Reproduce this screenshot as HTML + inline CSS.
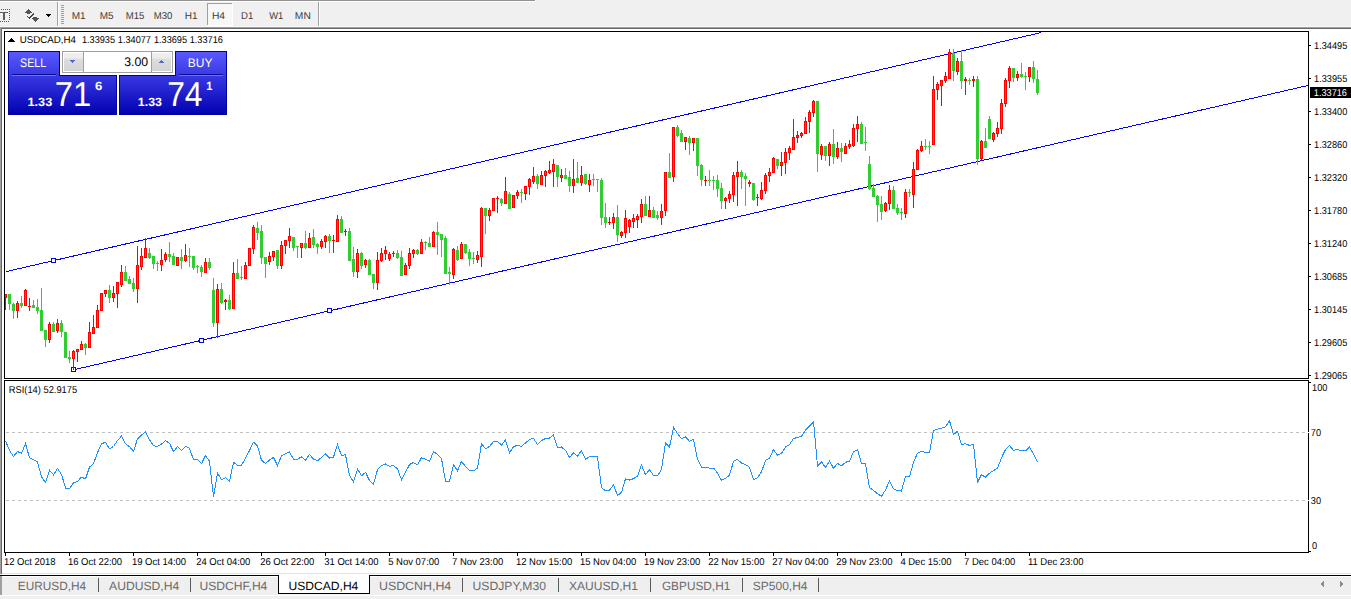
<!DOCTYPE html>
<html><head><meta charset="utf-8"><style>
html,body{margin:0;padding:0}
body{width:1351px;height:599px;position:relative;overflow:hidden;background:#f0f0f0;font-family:"Liberation Sans", sans-serif}
</style></head><body>
<svg width="1351" height="599" viewBox="0 0 1351 599" style="position:absolute;left:0;top:0" font-family='"Liberation Sans", sans-serif' shape-rendering="crispEdges" text-rendering="geometricPrecision"><defs><clipPath id="mainclip"><rect x="5" y="32" width="1303" height="346"/></clipPath></defs><rect x="0" y="0" width="535" height="1" fill="#939393"/>
<rect x="0" y="1" width="536" height="1" fill="#ffffff"/>
<rect x="535" y="0" width="1" height="1" fill="#ffffff"/>
<g fill="#555">
<rect x="1" y="9" width="1" height="1" fill="#555"/>
<rect x="0" y="21" width="1" height="1" fill="#555"/>
<rect x="3" y="9" width="1" height="1" fill="#555"/>
<rect x="2" y="21" width="1" height="1" fill="#555"/>
<rect x="5" y="9" width="1" height="1" fill="#555"/>
<rect x="4" y="21" width="1" height="1" fill="#555"/>
<rect x="7" y="9" width="1" height="1" fill="#555"/>
<rect x="6" y="21" width="1" height="1" fill="#555"/>
<rect x="9" y="9" width="1" height="1" fill="#555"/>
<rect x="8" y="21" width="1" height="1" fill="#555"/>
<rect x="9" y="9" width="1" height="1" fill="#555"/>
<rect x="9" y="11" width="1" height="1" fill="#555"/>
<rect x="9" y="13" width="1" height="1" fill="#555"/>
<rect x="9" y="15" width="1" height="1" fill="#555"/>
<rect x="9" y="17" width="1" height="1" fill="#555"/>
<rect x="9" y="19" width="1" height="1" fill="#555"/>
</g>
<rect x="0" y="12" width="8" height="1" fill="#5a5a5a"/>
<rect x="3" y="13" width="2" height="7" fill="#5a5a5a"/>
<path d="M25 12.5 L28.5 9 L32 12.5 Z" fill="#555"/>
<rect x="27" y="12" width="3" height="2" fill="#555"/>
<path d="M27 16 L29.5 18.5 L34 13" stroke="#444" stroke-width="1.3" fill="none"/>
<path d="M32 18 L39 18 L35.5 21.8 Z" fill="#555"/>
<rect x="33" y="17" width="4" height="1" fill="#555"/>
<path d="M46 14 L51.5 14 L48.75 17 Z" fill="#000"/>
<rect x="57" y="2" width="1" height="25" fill="#a0a0a0"/>
<rect x="58" y="2" width="1" height="25" fill="#ffffff"/>
<rect x="61" y="5" width="3" height="1" fill="#a0a0a0"/>
<rect x="61" y="7" width="3" height="1" fill="#a0a0a0"/>
<rect x="61" y="9" width="3" height="1" fill="#a0a0a0"/>
<rect x="61" y="11" width="3" height="1" fill="#a0a0a0"/>
<rect x="61" y="13" width="3" height="1" fill="#a0a0a0"/>
<rect x="61" y="15" width="3" height="1" fill="#a0a0a0"/>
<rect x="61" y="17" width="3" height="1" fill="#a0a0a0"/>
<rect x="61" y="19" width="3" height="1" fill="#a0a0a0"/>
<rect x="61" y="21" width="3" height="1" fill="#a0a0a0"/>
<rect x="61" y="23" width="3" height="1" fill="#a0a0a0"/>
<rect x="207" y="3" width="25" height="22" fill="#f7f7f7"/>
<rect x="207" y="3" width="25" height="1" fill="#a0a0a0"/>
<rect x="207" y="3" width="1" height="22" fill="#a0a0a0"/>
<rect x="232" y="3" width="1" height="23" fill="#ffffff"/>
<rect x="207" y="25" width="26" height="1" fill="#ffffff"/>
<text x="71.78" y="19" font-size="10" fill="#3a3a3a" textLength="13.90" lengthAdjust="spacingAndGlyphs">M1</text>
<text x="99.78" y="19" font-size="10" fill="#3a3a3a" textLength="13.83" lengthAdjust="spacingAndGlyphs">M5</text>
<text x="125.72" y="19" font-size="10" fill="#3a3a3a" textLength="18.58" lengthAdjust="spacingAndGlyphs">M15</text>
<text x="153.72" y="19" font-size="10" fill="#3a3a3a" textLength="18.55" lengthAdjust="spacingAndGlyphs">M30</text>
<text x="184.78" y="19" font-size="10" fill="#3a3a3a" textLength="12.81" lengthAdjust="spacingAndGlyphs">H1</text>
<text x="211.96" y="19" font-size="10" fill="#3a3a3a" textLength="13.14" lengthAdjust="spacingAndGlyphs">H4</text>
<text x="241.01" y="19" font-size="10" fill="#3a3a3a" textLength="12.25" lengthAdjust="spacingAndGlyphs">D1</text>
<text x="269.16" y="19" font-size="10" fill="#3a3a3a" textLength="14.09" lengthAdjust="spacingAndGlyphs">W1</text>
<text x="294.86" y="19" font-size="10" fill="#3a3a3a" textLength="15.98" lengthAdjust="spacingAndGlyphs">MN</text>
<rect x="318" y="2" width="1" height="25" fill="#a0a0a0"/>
<rect x="319" y="2" width="1" height="25" fill="#ffffff"/>
<rect x="0" y="26" width="1351" height="1" fill="#f7f7f7"/>
<rect x="0" y="27" width="1351" height="1" fill="#a0a0a0"/>
<rect x="0" y="28" width="1351" height="1" fill="#696969"/>
<rect x="0" y="27" width="1" height="547" fill="#a0a0a0"/>
<rect x="1" y="28" width="1" height="546" fill="#696969"/>
<rect x="2" y="29" width="1349" height="544" fill="#ffffff"/>
<rect x="2" y="573" width="1349" height="1" fill="#e3e3e3"/>
<rect x="2" y="574" width="1349" height="1" fill="#ffffff"/>
<rect x="4" y="31" width="1305" height="1" fill="#000"/>
<rect x="4" y="31" width="1" height="348" fill="#000"/>
<rect x="4" y="378" width="1305" height="1" fill="#000"/>
<rect x="1308" y="31" width="1" height="348" fill="#000"/>
<rect x="4" y="380" width="1305" height="1" fill="#000"/>
<rect x="4" y="380" width="1" height="173" fill="#000"/>
<rect x="4" y="552" width="1305" height="1" fill="#000"/>
<rect x="1308" y="380" width="1" height="173" fill="#000"/>
<g clip-path="url(#mainclip)">
<line x1="6" y1="271.60" x2="1041.5" y2="32.50" stroke="#0000ff" stroke-width="1"/>
<line x1="73" y1="369.91" x2="1308" y2="85.49" stroke="#0000ff" stroke-width="1"/>
<rect x="51.5" y="258.5" width="4" height="4" fill="#fff" stroke="#0000ff" stroke-width="1"/>
<rect x="71.5" y="367.5" width="4" height="4" fill="#fff" stroke="#0000ff" stroke-width="1"/>
<rect x="199.5" y="338.5" width="4" height="4" fill="#fff" stroke="#0000ff" stroke-width="1"/>
<rect x="327.5" y="308.5" width="4" height="4" fill="#fff" stroke="#0000ff" stroke-width="1"/>
<rect x="5" y="294" width="1" height="16" fill="#ff0000"/><rect x="4" y="294" width="3" height="4" fill="#ff0000"/><rect x="5" y="295" width="1" height="2" fill="#ff4500"/><rect x="9" y="294" width="1" height="16" fill="#32cd32"/><rect x="8" y="294" width="3" height="10" fill="#32cd32"/><rect x="13" y="303" width="1" height="16" fill="#32cd32"/><rect x="12" y="304" width="3" height="7" fill="#32cd32"/><rect x="17" y="301" width="1" height="17" fill="#ff0000"/><rect x="16" y="303" width="3" height="8" fill="#ff0000"/><rect x="17" y="304" width="1" height="6" fill="#ff4500"/><rect x="21" y="296" width="1" height="12" fill="#32cd32"/><rect x="20" y="303" width="3" height="3" fill="#32cd32"/><rect x="25" y="289" width="1" height="17" fill="#ff0000"/><rect x="24" y="290" width="3" height="16" fill="#ff0000"/><rect x="25" y="291" width="1" height="14" fill="#ff4500"/><rect x="29" y="298" width="1" height="13" fill="#ff0000"/><rect x="28" y="306" width="3" height="1" fill="#ff0000"/><rect x="33" y="300" width="1" height="8" fill="#32cd32"/><rect x="32" y="305" width="3" height="3" fill="#32cd32"/><rect x="37" y="299" width="1" height="15" fill="#32cd32"/><rect x="36" y="307" width="3" height="4" fill="#32cd32"/><rect x="41" y="288" width="1" height="43" fill="#32cd32"/><rect x="40" y="310" width="3" height="21" fill="#32cd32"/><rect x="45" y="330" width="1" height="17" fill="#32cd32"/><rect x="44" y="330" width="3" height="10" fill="#32cd32"/><rect x="49" y="322" width="1" height="21" fill="#ff0000"/><rect x="48" y="324" width="3" height="16" fill="#ff0000"/><rect x="49" y="325" width="1" height="14" fill="#ff4500"/><rect x="53" y="322" width="1" height="10" fill="#32cd32"/><rect x="52" y="324" width="3" height="8" fill="#32cd32"/><rect x="57" y="319" width="1" height="14" fill="#ff0000"/><rect x="56" y="323" width="3" height="8" fill="#ff0000"/><rect x="57" y="324" width="1" height="6" fill="#ff4500"/><rect x="61" y="320" width="1" height="17" fill="#32cd32"/><rect x="60" y="323" width="3" height="9" fill="#32cd32"/><rect x="65" y="332" width="1" height="26" fill="#32cd32"/><rect x="64" y="332" width="3" height="26" fill="#32cd32"/><rect x="69" y="351" width="1" height="12" fill="#32cd32"/><rect x="68" y="357" width="3" height="2" fill="#32cd32"/><rect x="73" y="350" width="1" height="20" fill="#ff0000"/><rect x="72" y="351" width="3" height="8" fill="#ff0000"/><rect x="73" y="352" width="1" height="6" fill="#ff4500"/><rect x="77" y="349" width="1" height="13" fill="#ff0000"/><rect x="76" y="349" width="3" height="3" fill="#ff0000"/><rect x="77" y="350" width="1" height="1" fill="#ff4500"/><rect x="81" y="341" width="1" height="9" fill="#ff0000"/><rect x="80" y="344" width="3" height="6" fill="#ff0000"/><rect x="81" y="345" width="1" height="4" fill="#ff4500"/><rect x="85" y="343" width="1" height="12" fill="#32cd32"/><rect x="84" y="344" width="3" height="4" fill="#32cd32"/><rect x="89" y="322" width="1" height="26" fill="#ff0000"/><rect x="88" y="332" width="3" height="16" fill="#ff0000"/><rect x="89" y="333" width="1" height="14" fill="#ff4500"/><rect x="93" y="315" width="1" height="19" fill="#ff0000"/><rect x="92" y="327" width="3" height="7" fill="#ff0000"/><rect x="93" y="328" width="1" height="5" fill="#ff4500"/><rect x="97" y="305" width="1" height="23" fill="#ff0000"/><rect x="96" y="310" width="3" height="18" fill="#ff0000"/><rect x="97" y="311" width="1" height="16" fill="#ff4500"/><rect x="101" y="293" width="1" height="18" fill="#ff0000"/><rect x="100" y="293" width="3" height="18" fill="#ff0000"/><rect x="101" y="294" width="1" height="16" fill="#ff4500"/><rect x="105" y="290" width="1" height="7" fill="#ff0000"/><rect x="104" y="290" width="3" height="4" fill="#ff0000"/><rect x="105" y="291" width="1" height="2" fill="#ff4500"/><rect x="109" y="285" width="1" height="18" fill="#32cd32"/><rect x="108" y="290" width="3" height="8" fill="#32cd32"/><rect x="113" y="286" width="1" height="16" fill="#ff0000"/><rect x="112" y="293" width="3" height="5" fill="#ff0000"/><rect x="113" y="294" width="1" height="3" fill="#ff4500"/><rect x="117" y="282" width="1" height="26" fill="#ff0000"/><rect x="116" y="282" width="3" height="12" fill="#ff0000"/><rect x="117" y="283" width="1" height="10" fill="#ff4500"/><rect x="121" y="265" width="1" height="22" fill="#ff0000"/><rect x="120" y="272" width="3" height="13" fill="#ff0000"/><rect x="121" y="273" width="1" height="11" fill="#ff4500"/><rect x="125" y="266" width="1" height="15" fill="#32cd32"/><rect x="124" y="272" width="3" height="9" fill="#32cd32"/><rect x="129" y="276" width="1" height="8" fill="#32cd32"/><rect x="128" y="279" width="3" height="5" fill="#32cd32"/><rect x="133" y="278" width="1" height="14" fill="#32cd32"/><rect x="132" y="283" width="3" height="6" fill="#32cd32"/><rect x="137" y="246" width="1" height="57" fill="#ff0000"/><rect x="136" y="265" width="3" height="24" fill="#ff0000"/><rect x="137" y="266" width="1" height="22" fill="#ff4500"/><rect x="141" y="248" width="1" height="22" fill="#ff0000"/><rect x="140" y="256" width="3" height="11" fill="#ff0000"/><rect x="141" y="257" width="1" height="9" fill="#ff4500"/><rect x="145" y="238" width="1" height="20" fill="#ff0000"/><rect x="144" y="248" width="3" height="10" fill="#ff0000"/><rect x="145" y="249" width="1" height="8" fill="#ff4500"/><rect x="149" y="248" width="1" height="11" fill="#32cd32"/><rect x="148" y="253" width="3" height="5" fill="#32cd32"/><rect x="153" y="256" width="1" height="13" fill="#32cd32"/><rect x="152" y="256" width="3" height="8" fill="#32cd32"/><rect x="157" y="261" width="1" height="10" fill="#32cd32"/><rect x="156" y="263" width="3" height="1" fill="#32cd32"/><rect x="161" y="249" width="1" height="22" fill="#ff0000"/><rect x="160" y="260" width="3" height="5" fill="#ff0000"/><rect x="161" y="261" width="1" height="3" fill="#ff4500"/><rect x="165" y="252" width="1" height="10" fill="#ff0000"/><rect x="164" y="254" width="3" height="6" fill="#ff0000"/><rect x="165" y="255" width="1" height="4" fill="#ff4500"/><rect x="169" y="242" width="1" height="20" fill="#32cd32"/><rect x="168" y="254" width="3" height="3" fill="#32cd32"/><rect x="173" y="253" width="1" height="12" fill="#32cd32"/><rect x="172" y="256" width="3" height="9" fill="#32cd32"/><rect x="177" y="257" width="1" height="9" fill="#ff0000"/><rect x="176" y="257" width="3" height="9" fill="#ff0000"/><rect x="177" y="258" width="1" height="7" fill="#ff4500"/><rect x="181" y="249" width="1" height="20" fill="#32cd32"/><rect x="180" y="257" width="3" height="4" fill="#32cd32"/><rect x="185" y="244" width="1" height="18" fill="#ff0000"/><rect x="184" y="255" width="3" height="6" fill="#ff0000"/><rect x="185" y="256" width="1" height="4" fill="#ff4500"/><rect x="189" y="248" width="1" height="19" fill="#32cd32"/><rect x="188" y="256" width="3" height="1" fill="#32cd32"/><rect x="193" y="256" width="1" height="14" fill="#32cd32"/><rect x="192" y="256" width="3" height="12" fill="#32cd32"/><rect x="197" y="265" width="1" height="8" fill="#32cd32"/><rect x="196" y="266" width="3" height="1" fill="#32cd32"/><rect x="201" y="265" width="1" height="12" fill="#32cd32"/><rect x="200" y="267" width="3" height="5" fill="#32cd32"/><rect x="205" y="258" width="1" height="15" fill="#ff0000"/><rect x="204" y="262" width="3" height="11" fill="#ff0000"/><rect x="205" y="263" width="1" height="9" fill="#ff4500"/><rect x="209" y="258" width="1" height="12" fill="#32cd32"/><rect x="208" y="262" width="3" height="6" fill="#32cd32"/><rect x="213" y="278" width="1" height="49" fill="#32cd32"/><rect x="212" y="290" width="3" height="33" fill="#32cd32"/><rect x="217" y="284" width="1" height="54" fill="#ff0000"/><rect x="216" y="289" width="3" height="34" fill="#ff0000"/><rect x="217" y="290" width="1" height="32" fill="#ff4500"/><rect x="221" y="283" width="1" height="21" fill="#32cd32"/><rect x="220" y="289" width="3" height="14" fill="#32cd32"/><rect x="225" y="299" width="1" height="11" fill="#ff0000"/><rect x="224" y="300" width="3" height="2" fill="#ff0000"/><rect x="229" y="295" width="1" height="15" fill="#32cd32"/><rect x="228" y="300" width="3" height="9" fill="#32cd32"/><rect x="233" y="262" width="1" height="47" fill="#ff0000"/><rect x="232" y="273" width="3" height="36" fill="#ff0000"/><rect x="233" y="274" width="1" height="34" fill="#ff4500"/><rect x="237" y="259" width="1" height="20" fill="#32cd32"/><rect x="236" y="273" width="3" height="6" fill="#32cd32"/><rect x="241" y="266" width="1" height="14" fill="#32cd32"/><rect x="240" y="277" width="3" height="1" fill="#32cd32"/><rect x="245" y="262" width="1" height="17" fill="#ff0000"/><rect x="244" y="265" width="3" height="14" fill="#ff0000"/><rect x="245" y="266" width="1" height="12" fill="#ff4500"/><rect x="249" y="248" width="1" height="18" fill="#ff0000"/><rect x="248" y="248" width="3" height="18" fill="#ff0000"/><rect x="249" y="249" width="1" height="16" fill="#ff4500"/><rect x="253" y="225" width="1" height="29" fill="#ff0000"/><rect x="252" y="227" width="3" height="22" fill="#ff0000"/><rect x="253" y="228" width="1" height="20" fill="#ff4500"/><rect x="257" y="222" width="1" height="18" fill="#32cd32"/><rect x="256" y="228" width="3" height="5" fill="#32cd32"/><rect x="261" y="225" width="1" height="39" fill="#32cd32"/><rect x="260" y="231" width="3" height="27" fill="#32cd32"/><rect x="265" y="257" width="1" height="21" fill="#32cd32"/><rect x="264" y="257" width="3" height="7" fill="#32cd32"/><rect x="269" y="252" width="1" height="13" fill="#ff0000"/><rect x="268" y="256" width="3" height="6" fill="#ff0000"/><rect x="269" y="257" width="1" height="4" fill="#ff4500"/><rect x="273" y="251" width="1" height="10" fill="#ff0000"/><rect x="272" y="251" width="3" height="6" fill="#ff0000"/><rect x="273" y="252" width="1" height="4" fill="#ff4500"/><rect x="277" y="250" width="1" height="19" fill="#32cd32"/><rect x="276" y="250" width="3" height="16" fill="#32cd32"/><rect x="281" y="241" width="1" height="28" fill="#ff0000"/><rect x="280" y="245" width="3" height="21" fill="#ff0000"/><rect x="281" y="246" width="1" height="19" fill="#ff4500"/><rect x="285" y="240" width="1" height="14" fill="#ff0000"/><rect x="284" y="240" width="3" height="6" fill="#ff0000"/><rect x="285" y="241" width="1" height="4" fill="#ff4500"/><rect x="289" y="228" width="1" height="20" fill="#ff0000"/><rect x="288" y="236" width="3" height="5" fill="#ff0000"/><rect x="289" y="237" width="1" height="3" fill="#ff4500"/><rect x="293" y="237" width="1" height="14" fill="#32cd32"/><rect x="292" y="237" width="3" height="11" fill="#32cd32"/><rect x="297" y="246" width="1" height="12" fill="#32cd32"/><rect x="296" y="246" width="3" height="1" fill="#32cd32"/><rect x="301" y="243" width="1" height="15" fill="#ff0000"/><rect x="300" y="243" width="3" height="5" fill="#ff0000"/><rect x="301" y="244" width="1" height="3" fill="#ff4500"/><rect x="305" y="231" width="1" height="18" fill="#32cd32"/><rect x="304" y="243" width="3" height="5" fill="#32cd32"/><rect x="309" y="233" width="1" height="15" fill="#ff0000"/><rect x="308" y="238" width="3" height="10" fill="#ff0000"/><rect x="309" y="239" width="1" height="8" fill="#ff4500"/><rect x="313" y="229" width="1" height="19" fill="#32cd32"/><rect x="312" y="237" width="3" height="8" fill="#32cd32"/><rect x="317" y="243" width="1" height="11" fill="#32cd32"/><rect x="316" y="244" width="3" height="3" fill="#32cd32"/><rect x="321" y="239" width="1" height="10" fill="#ff0000"/><rect x="320" y="241" width="3" height="6" fill="#ff0000"/><rect x="321" y="242" width="1" height="4" fill="#ff4500"/><rect x="325" y="235" width="1" height="13" fill="#ff0000"/><rect x="324" y="236" width="3" height="6" fill="#ff0000"/><rect x="325" y="237" width="1" height="4" fill="#ff4500"/><rect x="329" y="234" width="1" height="19" fill="#32cd32"/><rect x="328" y="236" width="3" height="5" fill="#32cd32"/><rect x="333" y="235" width="1" height="18" fill="#ff0000"/><rect x="332" y="240" width="3" height="1" fill="#ff0000"/><rect x="337" y="215" width="1" height="27" fill="#ff0000"/><rect x="336" y="219" width="3" height="23" fill="#ff0000"/><rect x="337" y="220" width="1" height="21" fill="#ff4500"/><rect x="341" y="216" width="1" height="17" fill="#32cd32"/><rect x="340" y="219" width="3" height="14" fill="#32cd32"/><rect x="345" y="229" width="1" height="7" fill="#ff0000"/><rect x="344" y="231" width="3" height="1" fill="#ff0000"/><rect x="349" y="228" width="1" height="33" fill="#32cd32"/><rect x="348" y="231" width="3" height="30" fill="#32cd32"/><rect x="353" y="247" width="1" height="30" fill="#32cd32"/><rect x="352" y="259" width="3" height="13" fill="#32cd32"/><rect x="357" y="249" width="1" height="29" fill="#ff0000"/><rect x="356" y="253" width="3" height="19" fill="#ff0000"/><rect x="357" y="254" width="1" height="17" fill="#ff4500"/><rect x="361" y="252" width="1" height="17" fill="#32cd32"/><rect x="360" y="253" width="3" height="13" fill="#32cd32"/><rect x="365" y="259" width="1" height="9" fill="#ff0000"/><rect x="364" y="260" width="3" height="5" fill="#ff0000"/><rect x="365" y="261" width="1" height="3" fill="#ff4500"/><rect x="369" y="259" width="1" height="16" fill="#32cd32"/><rect x="368" y="260" width="3" height="15" fill="#32cd32"/><rect x="373" y="274" width="1" height="15" fill="#32cd32"/><rect x="372" y="274" width="3" height="9" fill="#32cd32"/><rect x="377" y="252" width="1" height="38" fill="#ff0000"/><rect x="376" y="260" width="3" height="23" fill="#ff0000"/><rect x="377" y="261" width="1" height="21" fill="#ff4500"/><rect x="381" y="248" width="1" height="14" fill="#ff0000"/><rect x="380" y="253" width="3" height="8" fill="#ff0000"/><rect x="381" y="254" width="1" height="6" fill="#ff4500"/><rect x="385" y="246" width="1" height="14" fill="#ff0000"/><rect x="384" y="250" width="3" height="4" fill="#ff0000"/><rect x="385" y="251" width="1" height="2" fill="#ff4500"/><rect x="389" y="252" width="1" height="9" fill="#ff0000"/><rect x="388" y="254" width="3" height="5" fill="#ff0000"/><rect x="389" y="255" width="1" height="3" fill="#ff4500"/><rect x="393" y="251" width="1" height="6" fill="#ff0000"/><rect x="392" y="253" width="3" height="1" fill="#ff0000"/><rect x="397" y="250" width="1" height="9" fill="#32cd32"/><rect x="396" y="253" width="3" height="5" fill="#32cd32"/><rect x="401" y="251" width="1" height="25" fill="#32cd32"/><rect x="400" y="257" width="3" height="19" fill="#32cd32"/><rect x="405" y="263" width="1" height="12" fill="#ff0000"/><rect x="404" y="265" width="3" height="10" fill="#ff0000"/><rect x="405" y="266" width="1" height="8" fill="#ff4500"/><rect x="409" y="248" width="1" height="21" fill="#ff0000"/><rect x="408" y="253" width="3" height="13" fill="#ff0000"/><rect x="409" y="254" width="1" height="11" fill="#ff4500"/><rect x="413" y="249" width="1" height="9" fill="#ff0000"/><rect x="412" y="250" width="3" height="4" fill="#ff0000"/><rect x="413" y="251" width="1" height="2" fill="#ff4500"/><rect x="417" y="249" width="1" height="6" fill="#32cd32"/><rect x="416" y="250" width="3" height="4" fill="#32cd32"/><rect x="421" y="239" width="1" height="15" fill="#ff0000"/><rect x="420" y="242" width="3" height="12" fill="#ff0000"/><rect x="421" y="243" width="1" height="10" fill="#ff4500"/><rect x="425" y="241" width="1" height="9" fill="#32cd32"/><rect x="424" y="242" width="3" height="1" fill="#32cd32"/><rect x="429" y="237" width="1" height="10" fill="#32cd32"/><rect x="428" y="243" width="3" height="4" fill="#32cd32"/><rect x="433" y="231" width="1" height="16" fill="#ff0000"/><rect x="432" y="232" width="3" height="15" fill="#ff0000"/><rect x="433" y="233" width="1" height="13" fill="#ff4500"/><rect x="437" y="222" width="1" height="33" fill="#32cd32"/><rect x="436" y="232" width="3" height="3" fill="#32cd32"/><rect x="441" y="234" width="1" height="23" fill="#32cd32"/><rect x="440" y="234" width="3" height="6" fill="#32cd32"/><rect x="445" y="236" width="1" height="38" fill="#32cd32"/><rect x="444" y="238" width="3" height="36" fill="#32cd32"/><rect x="449" y="267" width="1" height="18" fill="#32cd32"/><rect x="448" y="272" width="3" height="2" fill="#32cd32"/><rect x="453" y="248" width="1" height="31" fill="#ff0000"/><rect x="452" y="249" width="3" height="26" fill="#ff0000"/><rect x="453" y="250" width="1" height="24" fill="#ff4500"/><rect x="457" y="246" width="1" height="15" fill="#32cd32"/><rect x="456" y="250" width="3" height="10" fill="#32cd32"/><rect x="461" y="242" width="1" height="17" fill="#ff0000"/><rect x="460" y="244" width="3" height="15" fill="#ff0000"/><rect x="461" y="245" width="1" height="13" fill="#ff4500"/><rect x="465" y="244" width="1" height="10" fill="#32cd32"/><rect x="464" y="244" width="3" height="9" fill="#32cd32"/><rect x="469" y="249" width="1" height="17" fill="#32cd32"/><rect x="468" y="252" width="3" height="7" fill="#32cd32"/><rect x="473" y="252" width="1" height="12" fill="#32cd32"/><rect x="472" y="258" width="3" height="1" fill="#32cd32"/><rect x="477" y="251" width="1" height="12" fill="#ff0000"/><rect x="476" y="255" width="3" height="5" fill="#ff0000"/><rect x="477" y="256" width="1" height="3" fill="#ff4500"/><rect x="481" y="207" width="1" height="60" fill="#ff0000"/><rect x="480" y="208" width="3" height="49" fill="#ff0000"/><rect x="481" y="209" width="1" height="47" fill="#ff4500"/><rect x="485" y="208" width="1" height="26" fill="#32cd32"/><rect x="484" y="208" width="3" height="8" fill="#32cd32"/><rect x="489" y="208" width="1" height="13" fill="#ff0000"/><rect x="488" y="210" width="3" height="6" fill="#ff0000"/><rect x="489" y="211" width="1" height="4" fill="#ff4500"/><rect x="493" y="198" width="1" height="13" fill="#ff0000"/><rect x="492" y="198" width="3" height="13" fill="#ff0000"/><rect x="493" y="199" width="1" height="11" fill="#ff4500"/><rect x="497" y="196" width="1" height="17" fill="#ff0000"/><rect x="496" y="198" width="3" height="1" fill="#ff0000"/><rect x="501" y="198" width="1" height="8" fill="#32cd32"/><rect x="500" y="199" width="3" height="4" fill="#32cd32"/><rect x="505" y="177" width="1" height="27" fill="#ff0000"/><rect x="504" y="191" width="3" height="13" fill="#ff0000"/><rect x="505" y="192" width="1" height="11" fill="#ff4500"/><rect x="509" y="192" width="1" height="17" fill="#32cd32"/><rect x="508" y="194" width="3" height="15" fill="#32cd32"/><rect x="513" y="195" width="1" height="13" fill="#ff0000"/><rect x="512" y="195" width="3" height="13" fill="#ff0000"/><rect x="513" y="196" width="1" height="11" fill="#ff4500"/><rect x="517" y="190" width="1" height="9" fill="#ff0000"/><rect x="516" y="192" width="3" height="4" fill="#ff0000"/><rect x="517" y="193" width="1" height="2" fill="#ff4500"/><rect x="521" y="189" width="1" height="14" fill="#32cd32"/><rect x="520" y="192" width="3" height="1" fill="#32cd32"/><rect x="525" y="186" width="1" height="14" fill="#ff0000"/><rect x="524" y="186" width="3" height="8" fill="#ff0000"/><rect x="525" y="187" width="1" height="6" fill="#ff4500"/><rect x="529" y="178" width="1" height="17" fill="#ff0000"/><rect x="528" y="179" width="3" height="8" fill="#ff0000"/><rect x="529" y="180" width="1" height="6" fill="#ff4500"/><rect x="533" y="167" width="1" height="17" fill="#ff0000"/><rect x="532" y="176" width="3" height="6" fill="#ff0000"/><rect x="533" y="177" width="1" height="4" fill="#ff4500"/><rect x="537" y="174" width="1" height="15" fill="#32cd32"/><rect x="536" y="176" width="3" height="8" fill="#32cd32"/><rect x="541" y="171" width="1" height="14" fill="#ff0000"/><rect x="540" y="175" width="3" height="10" fill="#ff0000"/><rect x="541" y="176" width="1" height="8" fill="#ff4500"/><rect x="545" y="170" width="1" height="17" fill="#ff0000"/><rect x="544" y="171" width="3" height="5" fill="#ff0000"/><rect x="545" y="172" width="1" height="3" fill="#ff4500"/><rect x="549" y="161" width="1" height="13" fill="#ff0000"/><rect x="548" y="170" width="3" height="3" fill="#ff0000"/><rect x="549" y="171" width="1" height="1" fill="#ff4500"/><rect x="553" y="159" width="1" height="28" fill="#ff0000"/><rect x="552" y="164" width="3" height="8" fill="#ff0000"/><rect x="553" y="165" width="1" height="6" fill="#ff4500"/><rect x="557" y="165" width="1" height="22" fill="#32cd32"/><rect x="556" y="165" width="3" height="12" fill="#32cd32"/><rect x="561" y="169" width="1" height="13" fill="#ff0000"/><rect x="560" y="175" width="3" height="3" fill="#ff0000"/><rect x="561" y="176" width="1" height="1" fill="#ff4500"/><rect x="565" y="168" width="1" height="11" fill="#32cd32"/><rect x="564" y="175" width="3" height="4" fill="#32cd32"/><rect x="569" y="171" width="1" height="21" fill="#32cd32"/><rect x="568" y="177" width="3" height="9" fill="#32cd32"/><rect x="573" y="159" width="1" height="34" fill="#ff0000"/><rect x="572" y="179" width="3" height="7" fill="#ff0000"/><rect x="573" y="180" width="1" height="5" fill="#ff4500"/><rect x="577" y="162" width="1" height="21" fill="#32cd32"/><rect x="576" y="178" width="3" height="5" fill="#32cd32"/><rect x="581" y="166" width="1" height="20" fill="#ff0000"/><rect x="580" y="175" width="3" height="8" fill="#ff0000"/><rect x="581" y="176" width="1" height="6" fill="#ff4500"/><rect x="585" y="174" width="1" height="11" fill="#32cd32"/><rect x="584" y="174" width="3" height="10" fill="#32cd32"/><rect x="589" y="174" width="1" height="18" fill="#ff0000"/><rect x="588" y="180" width="3" height="5" fill="#ff0000"/><rect x="589" y="181" width="1" height="3" fill="#ff4500"/><rect x="593" y="174" width="1" height="12" fill="#32cd32"/><rect x="592" y="179" width="3" height="1" fill="#32cd32"/><rect x="597" y="179" width="1" height="13" fill="#32cd32"/><rect x="596" y="179" width="3" height="1" fill="#32cd32"/><rect x="601" y="178" width="1" height="47" fill="#32cd32"/><rect x="600" y="180" width="3" height="38" fill="#32cd32"/><rect x="605" y="203" width="1" height="25" fill="#32cd32"/><rect x="604" y="217" width="3" height="6" fill="#32cd32"/><rect x="609" y="217" width="1" height="8" fill="#ff0000"/><rect x="608" y="222" width="3" height="1" fill="#ff0000"/><rect x="613" y="213" width="1" height="16" fill="#ff0000"/><rect x="612" y="217" width="3" height="6" fill="#ff0000"/><rect x="613" y="218" width="1" height="4" fill="#ff4500"/><rect x="617" y="205" width="1" height="37" fill="#32cd32"/><rect x="616" y="217" width="3" height="18" fill="#32cd32"/><rect x="621" y="231" width="1" height="7" fill="#ff0000"/><rect x="620" y="232" width="3" height="4" fill="#ff0000"/><rect x="621" y="233" width="1" height="2" fill="#ff4500"/><rect x="625" y="210" width="1" height="28" fill="#ff0000"/><rect x="624" y="218" width="3" height="15" fill="#ff0000"/><rect x="625" y="219" width="1" height="13" fill="#ff4500"/><rect x="629" y="219" width="1" height="14" fill="#ff0000"/><rect x="628" y="220" width="3" height="7" fill="#ff0000"/><rect x="629" y="221" width="1" height="5" fill="#ff4500"/><rect x="633" y="214" width="1" height="14" fill="#ff0000"/><rect x="632" y="218" width="3" height="4" fill="#ff0000"/><rect x="633" y="219" width="1" height="2" fill="#ff4500"/><rect x="637" y="214" width="1" height="14" fill="#ff0000"/><rect x="636" y="216" width="3" height="4" fill="#ff0000"/><rect x="637" y="217" width="1" height="2" fill="#ff4500"/><rect x="641" y="199" width="1" height="24" fill="#ff0000"/><rect x="640" y="204" width="3" height="13" fill="#ff0000"/><rect x="641" y="205" width="1" height="11" fill="#ff4500"/><rect x="645" y="196" width="1" height="20" fill="#32cd32"/><rect x="644" y="204" width="3" height="12" fill="#32cd32"/><rect x="649" y="196" width="1" height="21" fill="#ff0000"/><rect x="648" y="210" width="3" height="7" fill="#ff0000"/><rect x="649" y="211" width="1" height="5" fill="#ff4500"/><rect x="653" y="207" width="1" height="11" fill="#32cd32"/><rect x="652" y="210" width="3" height="8" fill="#32cd32"/><rect x="657" y="211" width="1" height="9" fill="#32cd32"/><rect x="656" y="215" width="3" height="3" fill="#32cd32"/><rect x="661" y="204" width="1" height="21" fill="#ff0000"/><rect x="660" y="211" width="3" height="7" fill="#ff0000"/><rect x="661" y="212" width="1" height="5" fill="#ff4500"/><rect x="665" y="172" width="1" height="44" fill="#ff0000"/><rect x="664" y="172" width="3" height="39" fill="#ff0000"/><rect x="665" y="173" width="1" height="37" fill="#ff4500"/><rect x="669" y="153" width="1" height="25" fill="#32cd32"/><rect x="668" y="172" width="3" height="6" fill="#32cd32"/><rect x="673" y="127" width="1" height="55" fill="#ff0000"/><rect x="672" y="127" width="3" height="50" fill="#ff0000"/><rect x="673" y="128" width="1" height="48" fill="#ff4500"/><rect x="677" y="125" width="1" height="12" fill="#32cd32"/><rect x="676" y="127" width="3" height="9" fill="#32cd32"/><rect x="681" y="130" width="1" height="12" fill="#32cd32"/><rect x="680" y="133" width="3" height="9" fill="#32cd32"/><rect x="685" y="137" width="1" height="13" fill="#ff0000"/><rect x="684" y="137" width="3" height="5" fill="#ff0000"/><rect x="685" y="138" width="1" height="3" fill="#ff4500"/><rect x="689" y="136" width="1" height="19" fill="#32cd32"/><rect x="688" y="138" width="3" height="5" fill="#32cd32"/><rect x="693" y="138" width="1" height="13" fill="#ff0000"/><rect x="692" y="138" width="3" height="5" fill="#ff0000"/><rect x="693" y="139" width="1" height="3" fill="#ff4500"/><rect x="697" y="138" width="1" height="38" fill="#32cd32"/><rect x="696" y="138" width="3" height="28" fill="#32cd32"/><rect x="701" y="164" width="1" height="22" fill="#32cd32"/><rect x="700" y="165" width="3" height="15" fill="#32cd32"/><rect x="705" y="176" width="1" height="10" fill="#ff0000"/><rect x="704" y="180" width="3" height="1" fill="#ff0000"/><rect x="709" y="170" width="1" height="16" fill="#32cd32"/><rect x="708" y="180" width="3" height="1" fill="#32cd32"/><rect x="713" y="176" width="1" height="14" fill="#32cd32"/><rect x="712" y="180" width="3" height="1" fill="#32cd32"/><rect x="717" y="175" width="1" height="22" fill="#32cd32"/><rect x="716" y="180" width="3" height="9" fill="#32cd32"/><rect x="721" y="183" width="1" height="26" fill="#32cd32"/><rect x="720" y="188" width="3" height="13" fill="#32cd32"/><rect x="725" y="197" width="1" height="12" fill="#ff0000"/><rect x="724" y="198" width="3" height="3" fill="#ff0000"/><rect x="725" y="199" width="1" height="1" fill="#ff4500"/><rect x="729" y="191" width="1" height="12" fill="#ff0000"/><rect x="728" y="194" width="3" height="5" fill="#ff0000"/><rect x="729" y="195" width="1" height="3" fill="#ff4500"/><rect x="733" y="172" width="1" height="30" fill="#ff0000"/><rect x="732" y="175" width="3" height="20" fill="#ff0000"/><rect x="733" y="176" width="1" height="18" fill="#ff4500"/><rect x="737" y="161" width="1" height="45" fill="#ff0000"/><rect x="736" y="172" width="3" height="5" fill="#ff0000"/><rect x="737" y="173" width="1" height="3" fill="#ff4500"/><rect x="741" y="170" width="1" height="19" fill="#32cd32"/><rect x="740" y="172" width="3" height="5" fill="#32cd32"/><rect x="745" y="173" width="1" height="33" fill="#32cd32"/><rect x="744" y="176" width="3" height="3" fill="#32cd32"/><rect x="749" y="180" width="1" height="7" fill="#ff0000"/><rect x="748" y="182" width="3" height="2" fill="#ff0000"/><rect x="753" y="183" width="1" height="18" fill="#32cd32"/><rect x="752" y="183" width="3" height="17" fill="#32cd32"/><rect x="757" y="194" width="1" height="12" fill="#ff0000"/><rect x="756" y="197" width="3" height="1" fill="#ff0000"/><rect x="761" y="182" width="1" height="18" fill="#ff0000"/><rect x="760" y="190" width="3" height="9" fill="#ff0000"/><rect x="761" y="191" width="1" height="7" fill="#ff4500"/><rect x="765" y="173" width="1" height="21" fill="#ff0000"/><rect x="764" y="175" width="3" height="16" fill="#ff0000"/><rect x="765" y="176" width="1" height="14" fill="#ff4500"/><rect x="769" y="168" width="1" height="14" fill="#ff0000"/><rect x="768" y="172" width="3" height="4" fill="#ff0000"/><rect x="769" y="173" width="1" height="2" fill="#ff4500"/><rect x="773" y="157" width="1" height="16" fill="#ff0000"/><rect x="772" y="158" width="3" height="15" fill="#ff0000"/><rect x="773" y="159" width="1" height="13" fill="#ff4500"/><rect x="777" y="159" width="1" height="10" fill="#32cd32"/><rect x="776" y="159" width="3" height="7" fill="#32cd32"/><rect x="781" y="152" width="1" height="24" fill="#ff0000"/><rect x="780" y="162" width="3" height="4" fill="#ff0000"/><rect x="781" y="163" width="1" height="2" fill="#ff4500"/><rect x="785" y="148" width="1" height="26" fill="#ff0000"/><rect x="784" y="152" width="3" height="11" fill="#ff0000"/><rect x="785" y="153" width="1" height="9" fill="#ff4500"/><rect x="789" y="146" width="1" height="14" fill="#ff0000"/><rect x="788" y="148" width="3" height="5" fill="#ff0000"/><rect x="789" y="149" width="1" height="3" fill="#ff4500"/><rect x="793" y="119" width="1" height="31" fill="#ff0000"/><rect x="792" y="137" width="3" height="13" fill="#ff0000"/><rect x="793" y="138" width="1" height="11" fill="#ff4500"/><rect x="797" y="131" width="1" height="12" fill="#ff0000"/><rect x="796" y="135" width="3" height="3" fill="#ff0000"/><rect x="797" y="136" width="1" height="1" fill="#ff4500"/><rect x="801" y="132" width="1" height="6" fill="#ff0000"/><rect x="800" y="133" width="3" height="3" fill="#ff0000"/><rect x="801" y="134" width="1" height="1" fill="#ff4500"/><rect x="805" y="117" width="1" height="17" fill="#ff0000"/><rect x="804" y="121" width="3" height="13" fill="#ff0000"/><rect x="805" y="122" width="1" height="11" fill="#ff4500"/><rect x="809" y="110" width="1" height="23" fill="#ff0000"/><rect x="808" y="112" width="3" height="10" fill="#ff0000"/><rect x="809" y="113" width="1" height="8" fill="#ff4500"/><rect x="813" y="100" width="1" height="17" fill="#ff0000"/><rect x="812" y="101" width="3" height="12" fill="#ff0000"/><rect x="813" y="102" width="1" height="10" fill="#ff4500"/><rect x="817" y="101" width="1" height="71" fill="#32cd32"/><rect x="816" y="101" width="3" height="53" fill="#32cd32"/><rect x="821" y="144" width="1" height="16" fill="#ff0000"/><rect x="820" y="146" width="3" height="9" fill="#ff0000"/><rect x="821" y="147" width="1" height="7" fill="#ff4500"/><rect x="825" y="146" width="1" height="15" fill="#32cd32"/><rect x="824" y="146" width="3" height="10" fill="#32cd32"/><rect x="829" y="142" width="1" height="24" fill="#ff0000"/><rect x="828" y="144" width="3" height="12" fill="#ff0000"/><rect x="829" y="145" width="1" height="10" fill="#ff4500"/><rect x="833" y="129" width="1" height="35" fill="#32cd32"/><rect x="832" y="144" width="3" height="13" fill="#32cd32"/><rect x="837" y="142" width="1" height="17" fill="#ff0000"/><rect x="836" y="148" width="3" height="9" fill="#ff0000"/><rect x="837" y="149" width="1" height="7" fill="#ff4500"/><rect x="841" y="143" width="1" height="19" fill="#32cd32"/><rect x="840" y="148" width="3" height="4" fill="#32cd32"/><rect x="845" y="143" width="1" height="11" fill="#ff0000"/><rect x="844" y="146" width="3" height="8" fill="#ff0000"/><rect x="845" y="147" width="1" height="6" fill="#ff4500"/><rect x="849" y="140" width="1" height="9" fill="#ff0000"/><rect x="848" y="144" width="3" height="3" fill="#ff0000"/><rect x="849" y="145" width="1" height="1" fill="#ff4500"/><rect x="853" y="124" width="1" height="23" fill="#ff0000"/><rect x="852" y="128" width="3" height="18" fill="#ff0000"/><rect x="853" y="129" width="1" height="16" fill="#ff4500"/><rect x="857" y="116" width="1" height="26" fill="#ff0000"/><rect x="856" y="124" width="3" height="5" fill="#ff0000"/><rect x="857" y="125" width="1" height="3" fill="#ff4500"/><rect x="861" y="122" width="1" height="22" fill="#32cd32"/><rect x="860" y="124" width="3" height="20" fill="#32cd32"/><rect x="865" y="127" width="1" height="24" fill="#32cd32"/><rect x="864" y="142" width="3" height="1" fill="#32cd32"/><rect x="869" y="156" width="1" height="34" fill="#32cd32"/><rect x="868" y="164" width="3" height="25" fill="#32cd32"/><rect x="873" y="184" width="1" height="13" fill="#32cd32"/><rect x="872" y="188" width="3" height="9" fill="#32cd32"/><rect x="877" y="195" width="1" height="27" fill="#32cd32"/><rect x="876" y="196" width="3" height="9" fill="#32cd32"/><rect x="881" y="196" width="1" height="24" fill="#32cd32"/><rect x="880" y="204" width="3" height="8" fill="#32cd32"/><rect x="885" y="202" width="1" height="10" fill="#ff0000"/><rect x="884" y="203" width="3" height="8" fill="#ff0000"/><rect x="885" y="204" width="1" height="6" fill="#ff4500"/><rect x="889" y="185" width="1" height="25" fill="#ff0000"/><rect x="888" y="190" width="3" height="14" fill="#ff0000"/><rect x="889" y="191" width="1" height="12" fill="#ff4500"/><rect x="893" y="186" width="1" height="23" fill="#32cd32"/><rect x="892" y="190" width="3" height="19" fill="#32cd32"/><rect x="897" y="204" width="1" height="11" fill="#32cd32"/><rect x="896" y="208" width="3" height="5" fill="#32cd32"/><rect x="901" y="208" width="1" height="12" fill="#32cd32"/><rect x="900" y="212" width="3" height="1" fill="#32cd32"/><rect x="905" y="189" width="1" height="29" fill="#ff0000"/><rect x="904" y="192" width="3" height="22" fill="#ff0000"/><rect x="905" y="193" width="1" height="20" fill="#ff4500"/><rect x="909" y="189" width="1" height="8" fill="#32cd32"/><rect x="908" y="192" width="3" height="1" fill="#32cd32"/><rect x="913" y="162" width="1" height="46" fill="#ff0000"/><rect x="912" y="169" width="3" height="26" fill="#ff0000"/><rect x="913" y="170" width="1" height="24" fill="#ff4500"/><rect x="917" y="149" width="1" height="21" fill="#ff0000"/><rect x="916" y="150" width="3" height="20" fill="#ff0000"/><rect x="917" y="151" width="1" height="18" fill="#ff4500"/><rect x="921" y="141" width="1" height="11" fill="#ff0000"/><rect x="920" y="146" width="3" height="5" fill="#ff0000"/><rect x="921" y="147" width="1" height="3" fill="#ff4500"/><rect x="925" y="139" width="1" height="11" fill="#32cd32"/><rect x="924" y="146" width="3" height="1" fill="#32cd32"/><rect x="929" y="141" width="1" height="13" fill="#32cd32"/><rect x="928" y="146" width="3" height="1" fill="#32cd32"/><rect x="933" y="76" width="1" height="69" fill="#ff0000"/><rect x="932" y="89" width="3" height="56" fill="#ff0000"/><rect x="933" y="90" width="1" height="54" fill="#ff4500"/><rect x="937" y="82" width="1" height="18" fill="#ff0000"/><rect x="936" y="84" width="3" height="6" fill="#ff0000"/><rect x="937" y="85" width="1" height="4" fill="#ff4500"/><rect x="941" y="80" width="1" height="26" fill="#ff0000"/><rect x="940" y="80" width="3" height="6" fill="#ff0000"/><rect x="941" y="81" width="1" height="4" fill="#ff4500"/><rect x="945" y="72" width="1" height="11" fill="#ff0000"/><rect x="944" y="76" width="3" height="5" fill="#ff0000"/><rect x="945" y="77" width="1" height="3" fill="#ff4500"/><rect x="949" y="49" width="1" height="30" fill="#ff0000"/><rect x="948" y="52" width="3" height="27" fill="#ff0000"/><rect x="949" y="53" width="1" height="25" fill="#ff4500"/><rect x="953" y="49" width="1" height="32" fill="#32cd32"/><rect x="952" y="53" width="3" height="18" fill="#32cd32"/><rect x="957" y="58" width="1" height="17" fill="#ff0000"/><rect x="956" y="61" width="3" height="11" fill="#ff0000"/><rect x="957" y="62" width="1" height="9" fill="#ff4500"/><rect x="961" y="50" width="1" height="39" fill="#32cd32"/><rect x="960" y="61" width="3" height="20" fill="#32cd32"/><rect x="965" y="77" width="1" height="18" fill="#ff0000"/><rect x="964" y="79" width="3" height="2" fill="#ff0000"/><rect x="969" y="78" width="1" height="7" fill="#32cd32"/><rect x="968" y="80" width="3" height="1" fill="#32cd32"/><rect x="973" y="76" width="1" height="11" fill="#ff0000"/><rect x="972" y="79" width="3" height="2" fill="#ff0000"/><rect x="977" y="76" width="1" height="89" fill="#32cd32"/><rect x="976" y="79" width="3" height="80" fill="#32cd32"/><rect x="981" y="140" width="1" height="20" fill="#ff0000"/><rect x="980" y="141" width="3" height="18" fill="#ff0000"/><rect x="981" y="142" width="1" height="16" fill="#ff4500"/><rect x="985" y="128" width="1" height="20" fill="#32cd32"/><rect x="984" y="141" width="3" height="7" fill="#32cd32"/><rect x="989" y="116" width="1" height="23" fill="#32cd32"/><rect x="988" y="119" width="3" height="20" fill="#32cd32"/><rect x="993" y="132" width="1" height="10" fill="#ff0000"/><rect x="992" y="133" width="3" height="7" fill="#ff0000"/><rect x="993" y="134" width="1" height="5" fill="#ff4500"/><rect x="997" y="122" width="1" height="15" fill="#ff0000"/><rect x="996" y="128" width="3" height="6" fill="#ff0000"/><rect x="997" y="129" width="1" height="4" fill="#ff4500"/><rect x="1001" y="99" width="1" height="35" fill="#ff0000"/><rect x="1000" y="103" width="3" height="26" fill="#ff0000"/><rect x="1001" y="104" width="1" height="24" fill="#ff4500"/><rect x="1005" y="78" width="1" height="29" fill="#ff0000"/><rect x="1004" y="80" width="3" height="24" fill="#ff0000"/><rect x="1005" y="81" width="1" height="22" fill="#ff4500"/><rect x="1009" y="66" width="1" height="22" fill="#ff0000"/><rect x="1008" y="68" width="3" height="13" fill="#ff0000"/><rect x="1009" y="69" width="1" height="11" fill="#ff4500"/><rect x="1013" y="68" width="1" height="14" fill="#32cd32"/><rect x="1012" y="68" width="3" height="10" fill="#32cd32"/><rect x="1017" y="71" width="1" height="10" fill="#ff0000"/><rect x="1016" y="74" width="3" height="4" fill="#ff0000"/><rect x="1017" y="75" width="1" height="2" fill="#ff4500"/><rect x="1021" y="63" width="1" height="15" fill="#32cd32"/><rect x="1020" y="74" width="3" height="3" fill="#32cd32"/><rect x="1025" y="72" width="1" height="18" fill="#32cd32"/><rect x="1024" y="76" width="3" height="1" fill="#32cd32"/><rect x="1029" y="67" width="1" height="15" fill="#ff0000"/><rect x="1028" y="67" width="3" height="10" fill="#ff0000"/><rect x="1029" y="68" width="1" height="8" fill="#ff4500"/><rect x="1033" y="61" width="1" height="22" fill="#32cd32"/><rect x="1032" y="67" width="3" height="12" fill="#32cd32"/><rect x="1037" y="70" width="1" height="25" fill="#32cd32"/><rect x="1036" y="79" width="3" height="14" fill="#32cd32"/>
</g>
<rect x="1309" y="45" width="2" height="1" fill="#000"/>
<text x="1314.10" y="49" font-size="10" fill="#000" textLength="33.17" lengthAdjust="spacingAndGlyphs">1.34495</text>
<rect x="1309" y="78" width="2" height="1" fill="#000"/>
<text x="1314.10" y="82" font-size="10" fill="#000" textLength="33.17" lengthAdjust="spacingAndGlyphs">1.33955</text>
<rect x="1309" y="111" width="2" height="1" fill="#000"/>
<text x="1314.10" y="115" font-size="10" fill="#000" textLength="33.17" lengthAdjust="spacingAndGlyphs">1.33400</text>
<rect x="1309" y="144" width="2" height="1" fill="#000"/>
<text x="1314.10" y="148" font-size="10" fill="#000" textLength="33.17" lengthAdjust="spacingAndGlyphs">1.32860</text>
<rect x="1309" y="177" width="2" height="1" fill="#000"/>
<text x="1314.10" y="181" font-size="10" fill="#000" textLength="33.17" lengthAdjust="spacingAndGlyphs">1.32320</text>
<rect x="1309" y="210" width="2" height="1" fill="#000"/>
<text x="1314.10" y="214" font-size="10" fill="#000" textLength="33.17" lengthAdjust="spacingAndGlyphs">1.31780</text>
<rect x="1309" y="243" width="2" height="1" fill="#000"/>
<text x="1314.10" y="247" font-size="10" fill="#000" textLength="33.17" lengthAdjust="spacingAndGlyphs">1.31240</text>
<rect x="1309" y="276" width="2" height="1" fill="#000"/>
<text x="1314.10" y="280" font-size="10" fill="#000" textLength="33.17" lengthAdjust="spacingAndGlyphs">1.30685</text>
<rect x="1309" y="309" width="2" height="1" fill="#000"/>
<text x="1314.10" y="313" font-size="10" fill="#000" textLength="33.17" lengthAdjust="spacingAndGlyphs">1.30145</text>
<rect x="1309" y="342" width="2" height="1" fill="#000"/>
<text x="1314.10" y="346" font-size="10" fill="#000" textLength="33.17" lengthAdjust="spacingAndGlyphs">1.29605</text>
<rect x="1309" y="375" width="2" height="1" fill="#000"/>
<text x="1314.10" y="379" font-size="10" fill="#000" textLength="33.17" lengthAdjust="spacingAndGlyphs">1.29065</text>
<rect x="1310" y="87" width="41" height="11" fill="#000"/>
<text x="1313.80" y="96" font-size="10" fill="#fff" textLength="33.17" lengthAdjust="spacingAndGlyphs">1.33716</text>
<line x1="6" y1="432.5" x2="1308" y2="432.5" stroke="#c0c0c0" stroke-dasharray="3 3"/>
<line x1="6" y1="500.5" x2="1308" y2="500.5" stroke="#c0c0c0" stroke-dasharray="3 3"/>
<rect x="1308" y="432" width="1" height="1" fill="#fff"/>
<rect x="1308" y="500" width="1" height="1" fill="#fff"/>
<rect x="1309" y="551" width="2" height="1" fill="#000"/>
<polyline points="5.5,440.96 9.5,450.46 13.5,456.47 17.5,451.51 21.5,453.39 25.5,443.73 29.5,457.73 33.5,459.53 37.5,462.04 41.5,476.90 45.5,482.38 49.5,470.19 53.5,474.84 57.5,468.51 61.5,474.40 65.5,488.07 69.5,488.92 73.5,482.90 77.5,481.37 81.5,477.13 85.5,478.94 89.5,467.09 93.5,463.51 97.5,452.71 101.5,443.65 105.5,442.36 109.5,448.74 113.5,446.50 117.5,440.43 121.5,436.10 125.5,443.80 129.5,446.71 133.5,451.34 137.5,438.79 141.5,435.05 145.5,431.77 149.5,439.81 153.5,445.76 157.5,446.48 161.5,444.16 165.5,440.66 169.5,443.28 173.5,451.60 177.5,446.72 181.5,450.31 185.5,446.40 189.5,448.38 193.5,459.68 197.5,459.51 201.5,463.70 205.5,455.48 209.5,461.33 213.5,496.70 217.5,473.09 221.5,479.65 225.5,477.79 229.5,481.71 233.5,462.25 237.5,465.18 241.5,465.18 245.5,458.23 249.5,450.51 253.5,442.21 257.5,445.84 261.5,460.28 265.5,463.56 269.5,460.02 273.5,457.36 277.5,465.64 281.5,455.95 285.5,453.66 289.5,451.95 293.5,459.03 297.5,459.22 301.5,456.88 305.5,460.08 309.5,454.49 313.5,459.16 317.5,460.78 321.5,457.31 325.5,454.02 329.5,458.01 333.5,457.24 337.5,444.43 341.5,455.58 345.5,454.77 349.5,475.57 353.5,481.61 357.5,469.11 361.5,475.76 365.5,472.34 369.5,480.35 373.5,484.24 377.5,469.73 381.5,465.61 385.5,464.01 389.5,466.45 393.5,465.49 397.5,468.88 401.5,479.57 405.5,472.21 409.5,464.59 413.5,462.52 417.5,464.87 421.5,457.74 425.5,459.07 429.5,461.49 433.5,451.69 437.5,454.29 441.5,458.62 445.5,481.13 449.5,481.51 453.5,464.60 457.5,470.67 461.5,461.45 465.5,466.57 469.5,470.56 473.5,470.99 477.5,468.07 481.5,443.51 485.5,448.83 489.5,446.45 493.5,441.70 497.5,441.54 501.5,445.00 505.5,439.94 509.5,452.74 513.5,446.66 517.5,445.31 521.5,446.58 525.5,442.88 529.5,439.61 533.5,438.22 537.5,444.74 541.5,440.61 545.5,438.41 549.5,438.10 553.5,434.97 557.5,447.89 561.5,447.02 565.5,450.43 569.5,457.45 573.5,452.86 577.5,456.25 581.5,450.51 585.5,459.45 589.5,456.44 593.5,456.44 597.5,456.79 601.5,487.85 605.5,490.74 609.5,490.22 613.5,484.86 617.5,495.49 621.5,492.29 625.5,478.88 629.5,480.04 633.5,478.67 637.5,476.14 641.5,465.01 645.5,474.67 649.5,469.73 653.5,475.40 657.5,475.80 661.5,469.43 665.5,442.69 669.5,447.09 673.5,427.41 677.5,433.59 681.5,438.65 685.5,436.88 689.5,441.24 693.5,439.33 697.5,458.97 701.5,467.35 705.5,467.06 709.5,468.03 713.5,468.03 717.5,472.94 721.5,480.44 725.5,478.24 729.5,475.18 733.5,461.47 737.5,459.42 741.5,463.04 745.5,464.53 749.5,467.10 753.5,479.57 757.5,477.83 761.5,471.78 765.5,460.36 769.5,458.01 773.5,449.52 777.5,455.33 781.5,453.35 785.5,447.04 789.5,444.66 793.5,438.52 797.5,437.46 801.5,436.36 805.5,430.19 809.5,425.98 813.5,421.76 817.5,465.91 821.5,461.91 825.5,467.44 829.5,461.02 833.5,468.32 837.5,463.42 841.5,465.83 845.5,462.32 849.5,461.15 853.5,451.92 857.5,449.58 861.5,463.46 865.5,463.46 869.5,487.54 873.5,490.57 877.5,493.67 881.5,496.39 885.5,489.91 889.5,481.01 893.5,488.87 897.5,490.65 901.5,491.08 905.5,476.06 909.5,476.73 913.5,462.32 917.5,453.19 921.5,451.41 925.5,452.42 929.5,452.42 933.5,430.53 937.5,429.13 941.5,428.11 945.5,426.92 949.5,420.82 953.5,434.43 957.5,431.38 961.5,444.46 965.5,443.71 969.5,445.48 973.5,444.38 977.5,482.41 981.5,474.68 985.5,477.17 989.5,473.14 993.5,470.55 997.5,468.24 1001.5,457.74 1005.5,449.40 1009.5,445.52 1013.5,450.50 1017.5,449.25 1021.5,450.84 1025.5,450.84 1029.5,446.86 1033.5,454.22 1037.5,462.20" fill="none" stroke="#1e90ff" stroke-width="1"/>
<text x="8.74" y="393" font-size="10" fill="#000" textLength="68.45" lengthAdjust="spacingAndGlyphs">RSI(14) 52.9175</text>
<rect x="1309" y="382" width="2" height="1" fill="#000"/>
<text x="1312.10" y="391" font-size="10" fill="#000" textLength="15.31" lengthAdjust="spacingAndGlyphs">100</text>
<text x="1310.83" y="436" font-size="10" fill="#000" textLength="10.21" lengthAdjust="spacingAndGlyphs">70</text>
<text x="1310.85" y="504" font-size="10" fill="#000" textLength="10.21" lengthAdjust="spacingAndGlyphs">30</text>
<text x="1312.04" y="549" font-size="10" fill="#000" textLength="5.10" lengthAdjust="spacingAndGlyphs">0</text>
<rect x="5" y="553" width="1" height="3" fill="#000"/>
<text x="3.88" y="565" font-size="10" fill="#000" textLength="51.63" lengthAdjust="spacingAndGlyphs">12 Oct 2018</text>
<rect x="69" y="553" width="1" height="3" fill="#000"/>
<text x="67.88" y="565" font-size="10" fill="#000" textLength="54.26" lengthAdjust="spacingAndGlyphs">16 Oct 22:00</text>
<rect x="133" y="553" width="1" height="3" fill="#000"/>
<text x="131.88" y="565" font-size="10" fill="#000" textLength="54.26" lengthAdjust="spacingAndGlyphs">19 Oct 14:00</text>
<rect x="197" y="553" width="1" height="3" fill="#000"/>
<text x="196.13" y="565" font-size="10" fill="#000" textLength="54.26" lengthAdjust="spacingAndGlyphs">24 Oct 04:00</text>
<rect x="261" y="553" width="1" height="3" fill="#000"/>
<text x="260.13" y="565" font-size="10" fill="#000" textLength="54.26" lengthAdjust="spacingAndGlyphs">26 Oct 22:00</text>
<rect x="325" y="553" width="1" height="3" fill="#000"/>
<text x="324.24" y="565" font-size="10" fill="#000" textLength="54.26" lengthAdjust="spacingAndGlyphs">31 Oct 14:00</text>
<rect x="389" y="553" width="1" height="3" fill="#000"/>
<text x="388.22" y="565" font-size="10" fill="#000" textLength="51.10" lengthAdjust="spacingAndGlyphs">5 Nov 07:00</text>
<rect x="453" y="553" width="1" height="3" fill="#000"/>
<text x="452.12" y="565" font-size="10" fill="#000" textLength="51.10" lengthAdjust="spacingAndGlyphs">7 Nov 23:00</text>
<rect x="517" y="553" width="1" height="3" fill="#000"/>
<text x="515.88" y="565" font-size="10" fill="#000" textLength="56.37" lengthAdjust="spacingAndGlyphs">12 Nov 15:00</text>
<rect x="581" y="553" width="1" height="3" fill="#000"/>
<text x="579.88" y="565" font-size="10" fill="#000" textLength="56.37" lengthAdjust="spacingAndGlyphs">15 Nov 04:00</text>
<rect x="645" y="553" width="1" height="3" fill="#000"/>
<text x="643.88" y="565" font-size="10" fill="#000" textLength="56.37" lengthAdjust="spacingAndGlyphs">19 Nov 23:00</text>
<rect x="709" y="553" width="1" height="3" fill="#000"/>
<text x="708.13" y="565" font-size="10" fill="#000" textLength="56.37" lengthAdjust="spacingAndGlyphs">22 Nov 15:00</text>
<rect x="773" y="553" width="1" height="3" fill="#000"/>
<text x="772.13" y="565" font-size="10" fill="#000" textLength="56.37" lengthAdjust="spacingAndGlyphs">27 Nov 04:00</text>
<rect x="837" y="553" width="1" height="3" fill="#000"/>
<text x="836.13" y="565" font-size="10" fill="#000" textLength="56.37" lengthAdjust="spacingAndGlyphs">29 Nov 23:00</text>
<rect x="901" y="553" width="1" height="3" fill="#000"/>
<text x="900.39" y="565" font-size="10" fill="#000" textLength="51.10" lengthAdjust="spacingAndGlyphs">4 Dec 15:00</text>
<rect x="965" y="553" width="1" height="3" fill="#000"/>
<text x="964.12" y="565" font-size="10" fill="#000" textLength="51.10" lengthAdjust="spacingAndGlyphs">7 Dec 04:00</text>
<rect x="1029" y="553" width="1" height="3" fill="#000"/>
<text x="1027.88" y="565" font-size="10" fill="#000" textLength="55.67" lengthAdjust="spacingAndGlyphs">11 Dec 23:00</text>
<path d="M7.5 42 L15.5 42 L11.5 38 Z" fill="#000"/>
<text x="19.65" y="43" font-size="10" fill="#000" textLength="56.33" lengthAdjust="spacingAndGlyphs">USDCAD,H4</text>
<text x="81.90" y="43" font-size="10" fill="#000" textLength="33.17" lengthAdjust="spacingAndGlyphs">1.33935</text>
<text x="117.80" y="43" font-size="10" fill="#000" textLength="33.17" lengthAdjust="spacingAndGlyphs">1.34077</text>
<text x="153.90" y="43" font-size="10" fill="#000" textLength="33.17" lengthAdjust="spacingAndGlyphs">1.33695</text>
<text x="189.70" y="43" font-size="10" fill="#000" textLength="33.17" lengthAdjust="spacingAndGlyphs">1.33716</text>
<defs><linearGradient id="bg1" x1="0" y1="51" x2="0" y2="115" gradientUnits="userSpaceOnUse"><stop offset="0" stop-color="#5a5aff"/><stop offset="0.35" stop-color="#3c3ce6"/><stop offset="1" stop-color="#0000b0"/></linearGradient><linearGradient id="spinb" x1="0" y1="53" x2="0" y2="71" gradientUnits="userSpaceOnUse"><stop offset="0" stop-color="#f0f0f0"/><stop offset="0.28" stop-color="#ececec"/><stop offset="0.34" stop-color="#dddddd"/><stop offset="1" stop-color="#d4d4d4"/></linearGradient></defs>
<rect x="5" y="47" width="225" height="70" fill="#ffffff"/>
<path d="M8 51 H60 V75 H117 V115 H8 Z" fill="url(#bg1)"/>
<path d="M8.5 51.5 H59.5 V75.5 H116.5 V114.5 H8.5 Z" fill="none" stroke="#0000a0" stroke-width="1"/>
<path d="M175 51 H227 V115 H119 V75 H175 Z" fill="url(#bg1)"/>
<path d="M175.5 51.5 H226.5 V114.5 H119.5 V75.5 H175.5 Z" fill="none" stroke="#0000a0" stroke-width="1"/>
<rect x="12" y="74" width="44" height="1" fill="#0c0c98"/>
<rect x="12" y="75" width="44" height="1" fill="#6e6efc"/>
<rect x="179" y="74" width="44" height="1" fill="#0c0c98"/>
<rect x="179" y="75" width="44" height="1" fill="#6e6efc"/>
<rect x="62" y="51" width="111" height="22" fill="#ffffff"/>
<rect x="62.5" y="51.5" width="110" height="21" fill="none" stroke="#a0a0a0"/>
<rect x="64" y="53" width="19" height="18" fill="url(#spinb)"/>
<rect x="83" y="52" width="1" height="20" fill="#a0a0a0"/>
<rect x="152" y="53" width="19" height="18" fill="url(#spinb)"/>
<rect x="151" y="52" width="1" height="20" fill="#a0a0a0"/>
<path d="M69.5 60 L75.5 60 L72.5 63 Z" fill="#5068c8"/>
<path d="M158.5 63 L164.5 63 L161.5 60 Z" fill="#5068c8"/>
<text x="124.13" y="66" font-size="12.5" fill="#000" textLength="23.94" lengthAdjust="spacingAndGlyphs">3.00</text>
<text x="20.12" y="67" font-size="12.5" fill="#fff" textLength="26.03" lengthAdjust="spacingAndGlyphs">SELL</text>
<text x="187.71" y="67" font-size="12.5" fill="#fff" textLength="24.75" lengthAdjust="spacingAndGlyphs">BUY</text>
<text x="27.41" y="106" font-size="12" fill="#fff" font-weight="bold" textLength="24.84" lengthAdjust="spacingAndGlyphs">1.33</text>
<text x="137.83" y="106" font-size="12" fill="#fff" font-weight="bold" textLength="24.11" lengthAdjust="spacingAndGlyphs">1.33</text>
<text x="54.73" y="106" font-size="34.5" fill="#fff" textLength="36.45" lengthAdjust="spacingAndGlyphs">71</text>
<text x="167.18" y="106" font-size="34.5" fill="#fff" textLength="35.35" lengthAdjust="spacingAndGlyphs">74</text>
<text x="94.92" y="90" font-size="12" fill="#fff" font-weight="bold" textLength="7.34" lengthAdjust="spacingAndGlyphs">6</text>
<text x="206.31" y="90" font-size="12" fill="#fff" font-weight="bold" textLength="6.19" lengthAdjust="spacingAndGlyphs">1</text>
<rect x="0" y="575" width="1351" height="1" fill="#000"/>
<rect x="0" y="576" width="1351" height="1" fill="#fff"/>
<rect x="0" y="577" width="1351" height="18" fill="#efefef"/>
<rect x="0" y="576" width="2" height="19" fill="#a0a0a0"/>
<rect x="0" y="595" width="1351" height="1" fill="#ffffff"/>
<rect x="0" y="596" width="1351" height="3" fill="#f0f0f0"/>
<rect x="278" y="575" width="92" height="19" fill="#fff"/>
<rect x="278" y="575" width="1" height="19" fill="#000"/>
<rect x="369" y="575" width="1" height="19" fill="#000"/>
<rect x="278" y="593" width="92" height="1" fill="#000"/>
<text x="17.78" y="590" font-size="12" fill="#6a6a6a" textLength="68.31" lengthAdjust="spacingAndGlyphs">EURUSD,H4</text>
<text x="109.08" y="590" font-size="12" fill="#6a6a6a" textLength="70.17" lengthAdjust="spacingAndGlyphs">AUDUSD,H4</text>
<text x="199.47" y="590" font-size="12" fill="#6a6a6a" textLength="67.88" lengthAdjust="spacingAndGlyphs">USDCHF,H4</text>
<text x="378.95" y="590" font-size="12" fill="#6a6a6a" textLength="72.31" lengthAdjust="spacingAndGlyphs">USDCNH,H4</text>
<text x="472.56" y="590" font-size="12" fill="#6a6a6a" textLength="73.51" lengthAdjust="spacingAndGlyphs">USDJPY,M30</text>
<text x="569.04" y="590" font-size="12" fill="#6a6a6a" textLength="68.94" lengthAdjust="spacingAndGlyphs">XAUUSD,H1</text>
<text x="661.91" y="590" font-size="12" fill="#6a6a6a" textLength="68.36" lengthAdjust="spacingAndGlyphs">GBPUSD,H1</text>
<text x="752.86" y="590" font-size="12" fill="#6a6a6a" textLength="54.59" lengthAdjust="spacingAndGlyphs">SP500,H4</text>
<text x="288.57" y="590" font-size="12" fill="#000" textLength="69.78" lengthAdjust="spacingAndGlyphs">USDCAD,H4</text>
<rect x="98" y="578" width="1" height="14" fill="#5a5a5a"/>
<rect x="190" y="578" width="1" height="14" fill="#5a5a5a"/>
<rect x="462" y="578" width="1" height="14" fill="#5a5a5a"/>
<rect x="558" y="578" width="1" height="14" fill="#5a5a5a"/>
<rect x="650" y="578" width="1" height="14" fill="#5a5a5a"/>
<rect x="742" y="578" width="1" height="14" fill="#5a5a5a"/>
<rect x="818" y="578" width="1" height="14" fill="#5a5a5a"/>
<path d="M1324 581 L1320.5 584 L1324 587 Z" fill="#8c8c8c"/>
<path d="M1340 581 L1343.5 584 L1340 587 Z" fill="#8c8c8c"/></svg>
</body></html>
